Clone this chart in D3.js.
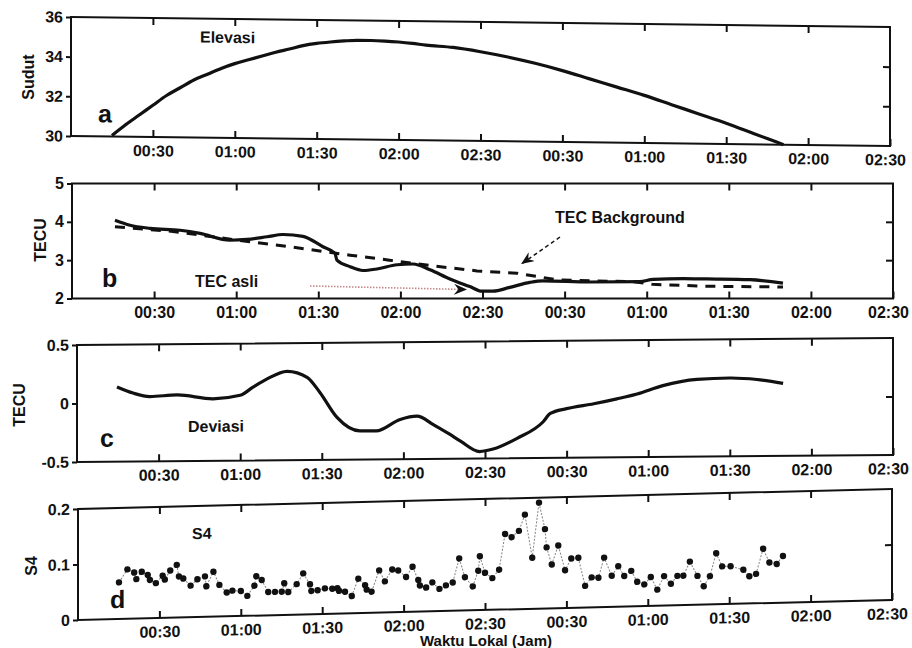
<!DOCTYPE html>
<html><head><meta charset="utf-8">
<script src="https://cdn.jsdelivr.net/npm/d3@7/dist/d3.min.js"></script>
<style>
body{margin:0;background:#fff}
svg{display:block}
text{font-family:"Liberation Sans",Arial,sans-serif;font-weight:bold;fill:#111}
</style>
</head><body>
<svg id="chart" width="912" height="648"></svg>
<script>
// ---- data (time in minutes from panel start, value) ----
const xTickValues = [30,60,90,120,150,180,210,240,270,300];
const xTickLabels = ["00:30","01:00","01:30","02:00","02:30","00:30","01:00","01:30","02:00","02:30"];

const elevation = [[15,30.05],[20,30.6],[25,31.1],[30,31.6],[35,32.1],[40,32.5],[45,32.9],[50,33.2],[55,33.5],[60,33.75],[65,33.95],[70,34.15],[75,34.35],[80,34.52],[85,34.7],[90,34.82],[95,34.9],[100,34.96],[105,35.0],[110,35.0],[115,34.98],[120,34.94],[125,34.88],[130,34.8],[140,34.7],[150,34.5],[160,34.25],[170,33.95],[180,33.6],[190,33.2],[200,32.8],[210,32.4],[220,31.95],[230,31.5],[240,31.05],[250,30.55],[255,30.3],[261,30.0]];

const tecAsli = [[15.7,4.04],[21.2,3.91],[28.5,3.83],[39.5,3.78],[46.8,3.70],[57.7,3.52],[64,3.54],[71.3,3.61],[77.1,3.67],[84.4,3.62],[91.7,3.35],[96.1,3.18],[96.8,3.0],[101.6,2.83],[106.3,2.73],[111.4,2.77],[118.8,2.88],[124.6,2.90],[130.8,2.75],[138.1,2.51],[145.4,2.31],[149.8,2.19],[153.8,2.19],[160,2.29],[167.3,2.42],[172.1,2.46],[189.3,2.43],[207.5,2.44],[212.3,2.50],[223.3,2.52],[232,2.51],[247.7,2.49],[259.8,2.40]];

const tecBackground = [[15.7,3.87],[36.9,3.75],[65,3.48],[79.7,3.35],[101.6,3.13],[116,3.0],[133,2.84],[148,2.72],[162.6,2.66],[177,2.49],[189.3,2.46],[205,2.44],[212,2.37],[232,2.32],[259.8,2.30]];

const deviasi = [[14.7,0.138],[20.6,0.085],[26.8,0.054],[36.8,0.066],[50,0.03],[60,0.058],[64.7,0.127],[69.9,0.197],[77.2,0.26],[84.6,0.207],[89.3,0.077],[95.6,-0.138],[104,-0.255],[110,-0.256],[118.8,-0.16],[125,-0.133],[131,-0.206],[137,-0.29],[141,-0.35],[148,-0.44],[153,-0.42],[161.8,-0.33],[171.4,-0.19],[174,-0.12],[180,-0.08],[190,-0.04],[198.5,0.0],[205.9,0.04],[215.4,0.11],[227.9,0.16],[240,0.17],[250,0.155],[259.6,0.12]];

const s4 = [[15.1,0.066],[18.2,0.089],[20.7,0.083],[21.5,0.071],[23.5,0.084],[25.7,0.078],[26.5,0.069],[28.7,0.063],[31.2,0.076],[32,0.069],[34,0.085],[36.4,0.095],[37.2,0.074],[38.8,0.070],[41.5,0.057],[44,0.068],[46.8,0.073],[47.3,0.055],[49.9,0.081],[52.1,0.057],[54.8,0.043],[56.9,0.046],[60,0.045],[62.4,0.036],[65,0.054],[65.7,0.071],[67.7,0.064],[70.1,0.042],[72.6,0.042],[75.1,0.042],[76,0.057],[77.5,0.041],[80.6,0.055],[83,0.074],[85.5,0.054],[86,0.042],[88.3,0.043],[91,0.046],[93.7,0.045],[95.6,0.046],[96.2,0.041],[98.4,0.039],[100.9,0.031],[103.3,0.062],[105.8,0.050],[106.4,0.042],[108.2,0.038],[111,0.076],[113.1,0.056],[115.8,0.077],[118,0.075],[120.9,0.063],[123.3,0.081],[125.4,0.057],[126,0.047],[128.3,0.043],[130.6,0.052],[133.2,0.040],[135.6,0.046],[138.1,0.051],[140.5,0.094],[142.6,0.060],[145.5,0.043],[147.5,0.071],[148.1,0.097],[150,0.067],[152.7,0.057],[155.2,0.072],[157.4,0.136],[159.8,0.130],[162.5,0.141],[164.7,0.170],[167.4,0.092],[169.9,0.191],[172.1,0.143],[172.7,0.110],[174.6,0.079],[177,0.113],[179.5,0.068],[181.8,0.089],[184.4,0.090],[186.9,0.039],[189.3,0.054],[191.8,0.053],[193.9,0.089],[196.7,0.056],[199.1,0.073],[201.3,0.055],[203.9,0.064],[206.1,0.044],[208.7,0.039],[211.1,0.052],[213.5,0.029],[216,0.053],[218.5,0.039],[220.9,0.053],[223.1,0.053],[225.5,0.078],[228.3,0.052],[230.6,0.033],[232.9,0.051],[235.2,0.092],[237.4,0.068],[240.5,0.068],[245.2,0.061],[247.4,0.049],[249.9,0.053],[252.5,0.098],[254.8,0.073],[257.5,0.070],[259.8,0.084]];

const yTicksA = [30,32,34,36];
const yTicksB = [2,3,4,5];
const yTicksC = [-0.5,0,0.5];
const yTicksD = [0,0.1,0.2];

// ---- layout ----
const panels = [
  {id:"a", left:71, top:17, width:819, height:119, slope:0.0122, domain:[30,36], ticks:yTicksA, fmt:d=>String(d),
   title:"Sudut", titleX:28, titleY:77, letter:[27,105], label:"Elevasi", labelPos:[129,24]},
  {id:"b", left:72, top:183.5, width:821, height:115, slope:0, domain:[2,5], ticks:yTicksB, fmt:d=>String(d),
   title:"TECU", titleX:40, titleY:240, letter:[30,103.5], label:"TEC asli", labelPos:[123,103.5]},
  {id:"c", left:77, top:345, width:816, height:117, slope:-0.00858, domain:[-0.5,0.5], ticks:yTicksC, fmt:d=>String(d),
   title:"TECU", titleX:19, titleY:405, letter:[23,102], label:"Deviasi", labelPos:[111,88]},
  {id:"d", left:78, top:509, width:814, height:111, slope:-0.0246, domain:[0,0.2], ticks:yTicksD, fmt:d=>String(d),
   title:"S4", titleX:31, titleY:566, letter:[32,100], label:"S4", labelPos:[114,33]}
];

const svg = d3.select("#chart");
const ink = "#111";

const defs = svg.append("defs");
defs.append("marker").attr("id","chev").attr("viewBox","0 0 12 10")
  .attr("refX",11).attr("refY",5).attr("markerWidth",13).attr("markerHeight",11)
  .attr("markerUnits","userSpaceOnUse").attr("orient","auto")
  .append("path").attr("d","M0,0 L12,5 L0,10 L4,5 Z").attr("fill",ink);

panels.forEach(p => {
  const ang = Math.atan(p.slope) * 180 / Math.PI;
  const g = svg.append("g").attr("transform", `translate(${p.left},${p.top}) skewY(${ang})`);
  const x = d3.scaleLinear().domain([0,300]).range([0,p.width]);
  const y = d3.scaleLinear().domain(p.domain).range([p.height,0]);
  const line = d3.line().x(d=>x(d[0])).y(d=>y(d[1]));

  if (p.id === "a") {
    g.append("path").datum(elevation).attr("d", line.curve(d3.curveMonotoneX))
      .attr("fill","none").attr("stroke",ink).attr("stroke-width",3.2);
  }
  if (p.id === "b") {
    g.append("path").datum(tecBackground).attr("d", d3.line().x(d=>x(d[0])).y(d=>y(d[1])))
      .attr("fill","none").attr("stroke",ink).attr("stroke-width",3).attr("stroke-dasharray","10,8");
    g.append("path").datum(tecAsli).attr("d", d3.line().x(d=>x(d[0])).y(d=>y(d[1])).curve(d3.curveMonotoneX))
      .attr("fill","none").attr("stroke",ink).attr("stroke-width",3.2);
    // annotations
    g.append("text").attr("x",483).attr("y",39.5).attr("font-size",16).text("TEC Background");
    g.append("line").attr("x1",488).attr("y1",53.5).attr("x2",450).attr("y2",80)
      .attr("stroke",ink).attr("stroke-width",1.5).attr("stroke-dasharray","4,3").attr("marker-end","url(#chev)");
    g.append("line").attr("x1",238).attr("y1",102.5).attr("x2",394).attr("y2",106)
      .attr("stroke","#c48888").attr("stroke-width",1.6).attr("stroke-dasharray","1.5,1.5").attr("marker-end","url(#chev)");
  }
  if (p.id === "c") {
    g.append("path").datum(deviasi).attr("d", line.curve(d3.curveMonotoneX))
      .attr("fill","none").attr("stroke",ink).attr("stroke-width",3.2);
  }
  if (p.id === "d") {
    g.append("path").datum(s4).attr("d", d3.line().x(d=>x(d[0])).y(d=>y(d[1])))
      .attr("fill","none").attr("stroke","#8a8080").attr("stroke-width",1).attr("stroke-dasharray","2,1.5");
    g.selectAll("circle.s4").data(s4).join("circle").attr("class","s4")
      .attr("cx",d=>x(d[0])).attr("cy",d=>y(d[1])).attr("r",3.2).attr("fill",ink);
  }

  // frame
  g.append("rect").attr("width",p.width).attr("height",p.height)
    .attr("fill","none").attr("stroke",ink).attr("stroke-width",2);

  // bottom axis (inward ticks + labels)
  const xb = g.append("g").attr("transform",`translate(0,${p.height})`)
    .call(d3.axisBottom(x).tickValues(xTickValues).tickFormat((d,i)=>xTickLabels[i])
      .tickSizeInner(-7).tickSizeOuter(0).tickPadding(8));
  xb.selectAll(".tick text").filter((d,i,n)=>i===n.length-1).attr("dx",-5);
  // top axis (inward ticks)
  const xt = g.append("g")
    .call(d3.axisTop(x).tickValues(xTickValues.slice(0,-1)).tickFormat("")
      .tickSizeInner(-7).tickSizeOuter(0));
  // left axis
  const yl = g.append("g")
    .call(d3.axisLeft(y).tickValues(p.ticks).tickFormat(p.fmt).tickSizeInner(5).tickSizeOuter(0).tickPadding(3));
  // right axis (inward ticks at interior values)
  const yr = g.append("g").attr("transform",`translate(${p.width},0)`)
    .call(d3.axisRight(y).tickValues(p.ticks.slice(1,-1)).tickFormat("").tickSizeInner(-7).tickSizeOuter(0));
  [xb,xt,yl,yr].forEach(a => {
    a.select(".domain").remove();
    a.attr("font-size",16).attr("font-family",null);
    a.selectAll(".tick line").attr("stroke",ink).attr("stroke-width",2);
  });

  // panel letter and series label
  g.append("text").attr("x",p.letter[0]).attr("y",p.letter[1]).attr("font-size",25).text(p.id);
  g.append("text").attr("x",p.labelPos[0]).attr("y",p.labelPos[1]).attr("font-size",16).text(p.label);

  // y title
  svg.append("text").attr("transform",`translate(${p.titleX},${p.titleY}) rotate(-90)`)
    .attr("text-anchor","middle").attr("dy","0.35em").attr("font-size",16).text(p.title);
});

svg.append("text").attr("x",420).attr("y",646).attr("font-size",15).text("Waktu Lokal (Jam)");
</script>
</body></html>
